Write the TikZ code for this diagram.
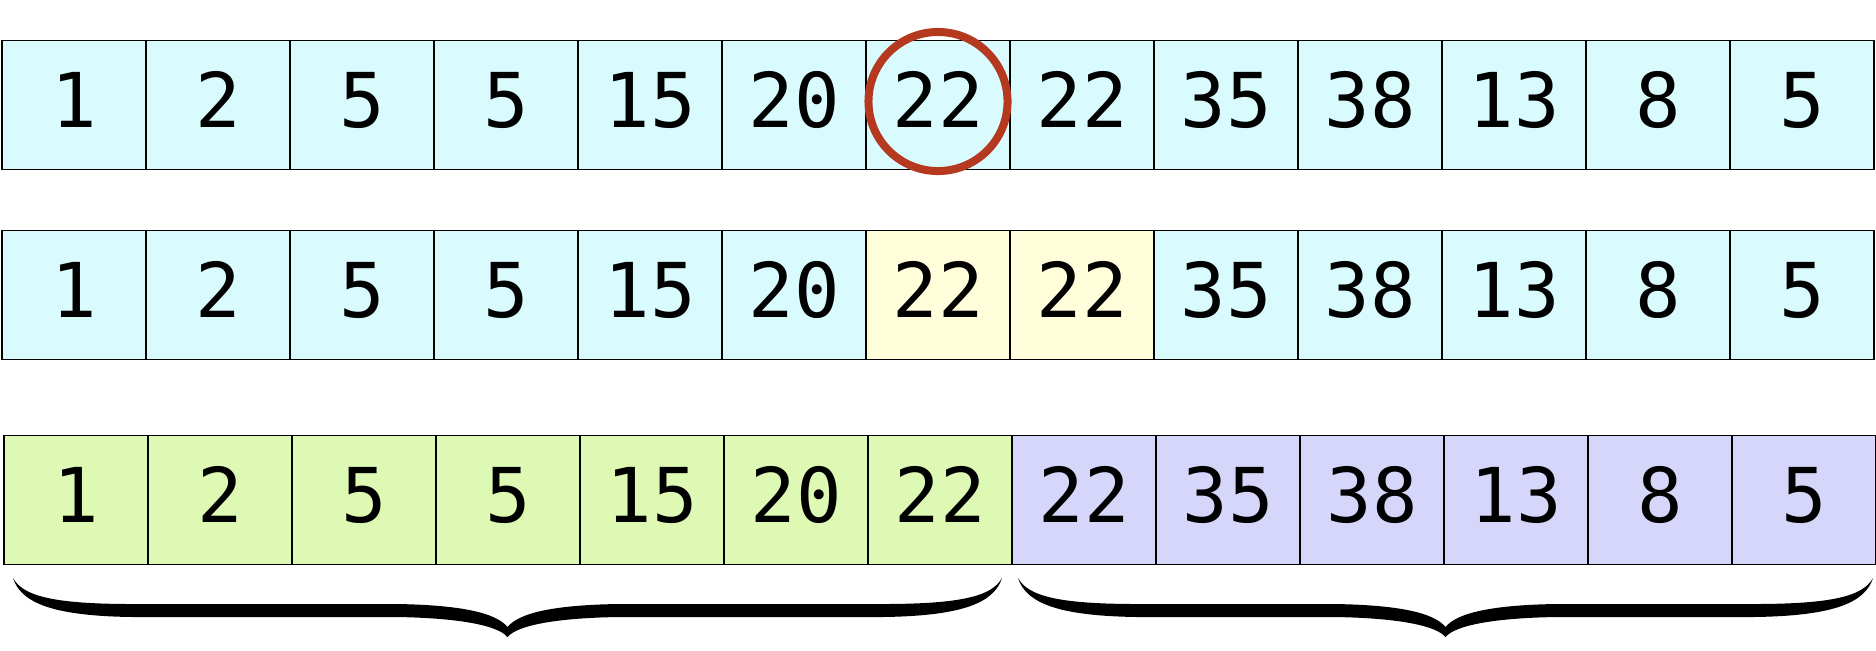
\documentclass[tikz,border=0pt]{standalone}
\usepackage{tikz}
\usepackage{fontspec}
\usetikzlibrary{calc}
\newfontfamily\cellfont{DejaVu Sans Mono}
\definecolor{cyancell}{HTML}{D9FBFD}
\definecolor{yellowcell}{HTML}{FFFDDA}
\definecolor{greencell}{HTML}{DDF9B4}
\definecolor{bluecell}{HTML}{D6D6FA}
\definecolor{ringred}{HTML}{B5391F}
\tikzset{cell/.style={draw=black,fill=#1,line width=0.018cm,inner sep=0pt,minimum width=1.44cm,minimum height=1.29cm,text height=0.55cm,text depth=0.11cm,font=\cellfont\fontsize{21.5}{26}\selectfont},cell/.default=cyancell}
\tikzset{ring/.style={color=#1,line width=0.08cm},ring/.default=ringred}
% curly brace as a filled shape between x=#1 and x=#2
\newcommand{\curlybrace}[2]{%
	\pgfmathsetmacro{\xm}{(#1+#2)/2}
	\fill (#1,578) .. controls (#1+8,603) and (#1+40,616) .. (#1+120,617)
		-- (\xm-110,617) .. controls (\xm-50,618) and (\xm-10,625) .. (\xm,637)
		.. controls (\xm+10,625) and (\xm+50,618) .. (\xm+110,617)
		-- (#2-120,617) .. controls (#2-40,616) and (#2-8,603) .. (#2,578)
		.. controls (#2-10,596) and (#2-40,604) .. (#2-120,604)
		-- (\xm+110,604) .. controls (\xm+50,605) and (\xm+12,612) .. (\xm,627)
		.. controls (\xm-12,612) and (\xm-50,605) .. (\xm-110,604)
		-- (#1+120,604) .. controls (#1+40,604) and (#1+10,596) .. (#1,578) -- cycle;
}

\begin{document}
\begin{tikzpicture}[x=0.01cm,y=-0.01cm]
		\useasboundingbox (0,0) rectangle (1876,650);
		
		% row 1: the pivot
		\foreach \v [count=\i] in {1,2,5,5,15,20,22,22,35,38,13,8,5}
			\node [cell] (a\i) at (144*\i-70,105) {\v};
		\draw [ring] ($(a7.center)+(0,-3.5)$) circle (0.695cm);
		
		% row 2: equal keys
		\foreach \v [count=\i] in {1,2,5,5,15,20,22,22,35,38,13,8,5} {
			\ifnum\i=7 \def\c{yellowcell}\else\ifnum\i=8 \def\c{yellowcell}\else\def\c{cyancell}\fi\fi
			\node [cell=\c] (b\i) at (144*\i-70,295) {\v};
		}
		
		% row 3: the two halves
		\foreach \v [count=\i] in {1,2,5,5,15,20,22,22,35,38,13,8,5} {
			\ifnum\i<8 \def\c{greencell}\else\def\c{bluecell}\fi
			\node [cell=\c] (c\i) at (144*\i-68,500) {\v};
		}
		
		\curlybrace{13}{1002}
		\curlybrace{1018}{1873}
	\end{tikzpicture}
\end{document}
